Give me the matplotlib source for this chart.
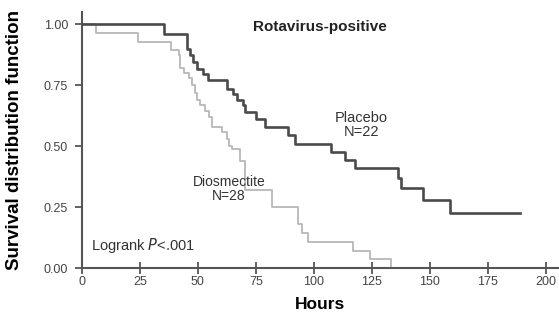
import matplotlib.pyplot as plt
import numpy as np

plt.rcParams['font.family'] = ['Liberation Sans', 'DejaVu Sans']

# Kaplan-Meier curves (hours, survival)
placebo_t = [0, 35.5, 45.5, 46.5, 48, 49.5, 52.3, 54.5, 62.4, 65.2, 66.7, 69.5, 70.5,
             75, 79, 88.8, 91.8, 107.6, 113.4, 117.7, 136.3, 137.4, 147.1, 158.6, 188.8]
placebo_s = [1.0, 0.962, 0.90, 0.873, 0.846, 0.818, 0.798, 0.77, 0.736, 0.716, 0.689, 0.668, 0.641,
             0.613, 0.58, 0.545, 0.51, 0.477, 0.443, 0.409, 0.37, 0.327, 0.28, 0.227, 0.227]

dios_t = [0, 6, 24, 38.2, 41.7, 42.4, 43.8, 46, 47.4, 48.8, 49.6, 51, 53.2, 54.6, 56,
          60.3, 62.5, 63.2, 64.5, 68, 70.3, 81.8, 93.2, 94.7, 97.5, 117, 124.4, 133.3]
dios_s = [1.0, 0.964, 0.929, 0.893, 0.875, 0.821, 0.80, 0.78, 0.75, 0.72, 0.69, 0.668, 0.643, 0.62, 0.58,
          0.56, 0.53, 0.50, 0.49, 0.44, 0.321, 0.25, 0.18, 0.143, 0.107, 0.071, 0.036, 0.0]

xticks = [0, 25, 50, 75, 100, 125, 150, 175, 200]
yticks = [0.0, 0.25, 0.5, 0.75, 1.0]

fig = plt.figure(figsize=(5.59, 3.21), dpi=100)
ax = fig.add_axes([0.1467, 0.165, 0.851, 0.797])

ax.step(dios_t, dios_s, where='post', color='#b8b8b8', lw=1.3, zorder=2)
ax.step(placebo_t, placebo_s, where='post', color='#4a4a4a', lw=1.9, zorder=3)

ax.set_xlim(0, 205.2)
ax.set_ylim(0, 1.05)
ax.set_xticks(xticks)
ax.set_yticks(yticks)
ax.set_yticklabels(['%.2f' % v for v in yticks])

for s in ['top', 'right']:
    ax.spines[s].set_visible(False)
for s in ['left', 'bottom']:
    ax.spines[s].set_color('#555555')
    ax.spines[s].set_linewidth(1.5)
ax.tick_params(axis='x', direction='inout', length=8, width=1.3, color='#555555',
               labelsize=9, labelcolor='#444444', pad=2)
ax.tick_params(axis='y', direction='out', length=5, width=1.3, color='#555555',
               labelsize=9, labelcolor='#444444', pad=5)

ax.set_xlabel('Hours', fontsize=12.5, fontweight='bold')
ax.set_ylabel('Survival distribution function', fontsize=13.5, fontweight='bold')
ax.xaxis.set_label_coords(0.5, -0.113)
ax.yaxis.set_label_coords(-0.124, 0.5)

ax.text(0.5, 0.99, 'Rotavirus-positive', ha='center', va='center',
        transform=ax.get_yaxis_transform(), fontsize=11, fontweight='bold', color='#222222')
ax.text(120.5, 0.586, 'Placebo\nN=22', ha='center', va='center', fontsize=10.5,
        color='#333333', linespacing=1.0)
ax.text(63.4, 0.324, 'Diosmectite\nN=28', ha='center', va='center', fontsize=10,
        color='#333333', linespacing=1.05)
ax.text(4, 0.094, 'Logrank $\\it{P}$<.001', ha='left', va='center', fontsize=10.5,
        color='#333333')

fig.savefig('out.png', dpi=100)
